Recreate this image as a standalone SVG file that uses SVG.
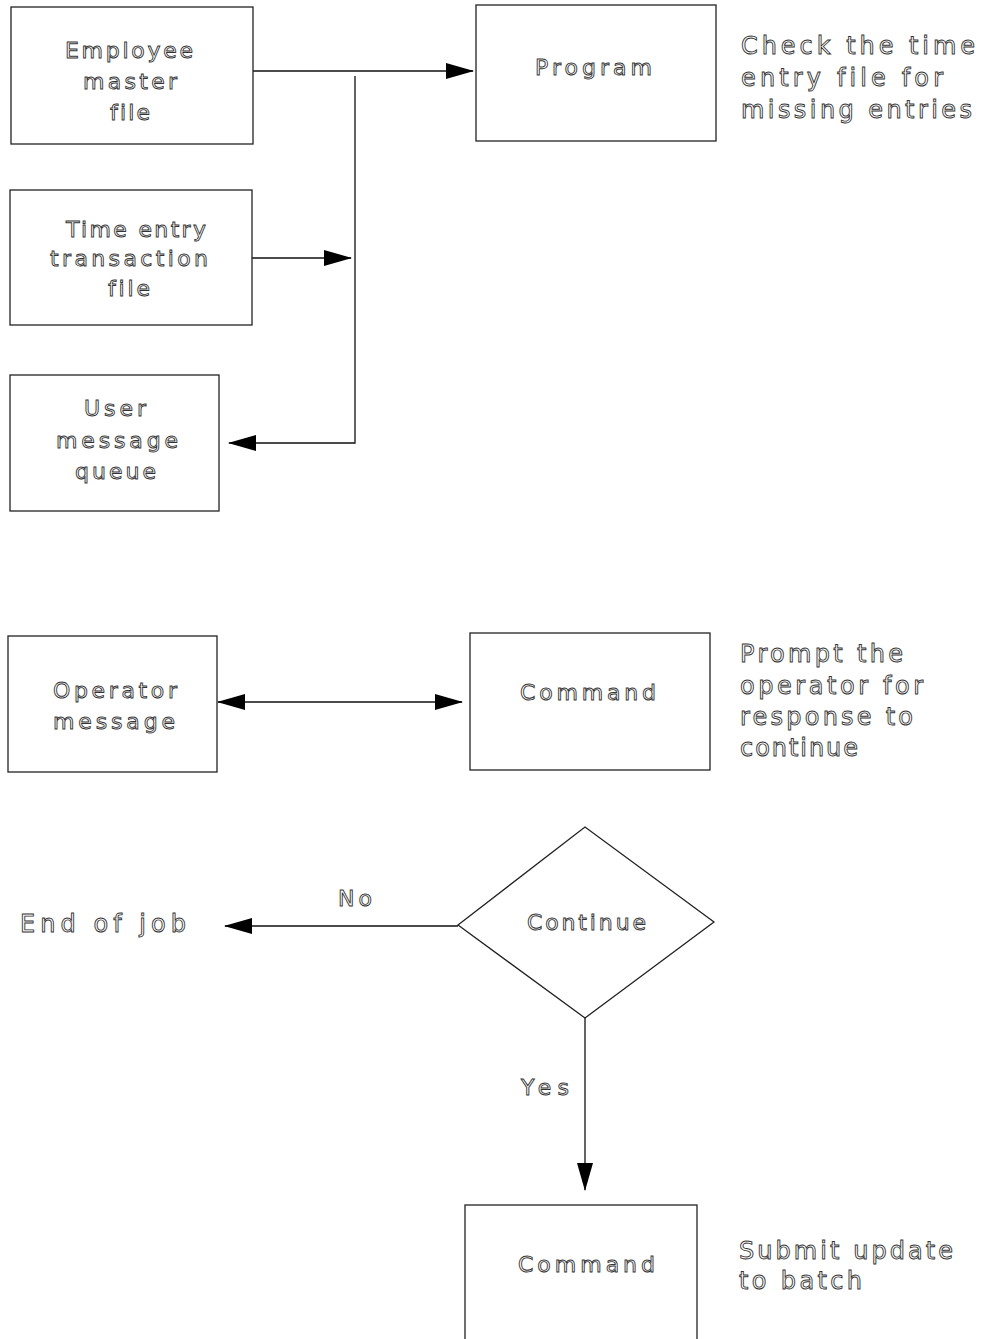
<svg xmlns="http://www.w3.org/2000/svg" width="982" height="1339" viewBox="0 0 982 1339">
<style>
.box{fill:#fff;stroke:#222;stroke-width:1.3}
.t{font-family:"DejaVu Sans","Liberation Sans",sans-serif;font-size:22px;font-variant-ligatures:none;fill:#fff;stroke:#333;stroke-width:0.9;dominant-baseline:central}
.s{font-family:"DejaVu Sans","Liberation Sans",sans-serif;font-size:24px;font-variant-ligatures:none;fill:#fff;stroke:#333;stroke-width:0.9;dominant-baseline:central}
.ln{fill:none;stroke:#111;stroke-width:1.3}
</style>
<defs>
<marker id="ah" markerWidth="28" markerHeight="16" refX="27" refY="8" orient="auto" markerUnits="userSpaceOnUse">
<path d="M0,0 L28,8 L0,16 Z" fill="#000"/>
</marker>
<marker id="ahs" markerWidth="28" markerHeight="16" refX="1" refY="8" orient="auto" markerUnits="userSpaceOnUse">
<path d="M28,0 L0,8 L28,16 Z" fill="#000"/>
</marker>
</defs>
<rect width="982" height="1339" fill="#fff"/>
<g id="connectors">
<path class="ln" d="M253,71 L473,71" marker-end="url(#ah)"/>
<path class="ln" d="M355,76 L355,443 L229,443" marker-end="url(#ah)"/>
<path class="ln" d="M252,258 L351,258" marker-end="url(#ah)"/>
<path class="ln" d="M218,702 L462,702" marker-start="url(#ahs)" marker-end="url(#ah)"/>
<path class="ln" d="M458,926 L225,926" marker-end="url(#ah)"/>
<path class="ln" d="M585,1018 L585,1190" marker-end="url(#ah)"/>
<text class="t" x="338" y="898" textLength="34" lengthAdjust="spacing">No</text>
<text class="t" x="521" y="1087" textLength="48" lengthAdjust="spacing">Yes</text>
</g>
<g id="employee-master-file">
<rect class="box" x="11" y="7" width="242" height="137"/>
<text class="t" x="65" y="50" textLength="128" lengthAdjust="spacing">Employee</text>
<text class="t" x="83" y="81" textLength="94" lengthAdjust="spacing">master</text>
<text class="t" x="110" y="112" textLength="40" lengthAdjust="spacing">file</text>
</g>
<g id="program">
<rect class="box" x="476" y="5" width="240" height="136"/>
<text class="t" x="535" y="67" textLength="117" lengthAdjust="spacing">Program</text>
</g>
<g id="note-check">
<text class="s" x="741" y="46" textLength="234" lengthAdjust="spacing">Check the time</text>
<text class="s" x="741" y="78" textLength="202" lengthAdjust="spacing">entry file for</text>
<text class="s" x="741" y="110" textLength="231" lengthAdjust="spacing">missing entries</text>
</g>
<g id="time-entry-file">
<rect class="box" x="10" y="190" width="242" height="135"/>
<text class="t" x="66" y="229" textLength="140" lengthAdjust="spacing">Time entry</text>
<text class="t" x="50" y="258" textLength="158" lengthAdjust="spacing">transaction</text>
<text class="t" x="108" y="288" textLength="42" lengthAdjust="spacing">file</text>
</g>
<g id="user-message-queue">
<rect class="box" x="10" y="375" width="209" height="136"/>
<text class="t" x="84" y="408" textLength="62" lengthAdjust="spacing">User</text>
<text class="t" x="56" y="440" textLength="122" lengthAdjust="spacing">message</text>
<text class="t" x="75" y="471" textLength="81" lengthAdjust="spacing">queue</text>
</g>
<g id="operator-message">
<rect class="box" x="8" y="636" width="209" height="136"/>
<text class="t" x="53" y="690" textLength="124" lengthAdjust="spacing">Operator</text>
<text class="t" x="53" y="721" textLength="122" lengthAdjust="spacing">message</text>
</g>
<g id="command-1">
<rect class="box" x="470" y="633" width="240" height="137"/>
<text class="t" x="520" y="692" textLength="136" lengthAdjust="spacing">Command</text>
</g>
<g id="note-prompt">
<text class="s" x="740" y="654" textLength="163" lengthAdjust="spacing">Prompt the</text>
<text class="s" x="740" y="686" textLength="183" lengthAdjust="spacing">operator for</text>
<text class="s" x="740" y="717" textLength="173" lengthAdjust="spacing">response to</text>
<text class="s" x="740" y="748" textLength="118" lengthAdjust="spacing">continue</text>
</g>
<g id="continue">
<polygon class="box" points="458,925 585,827 714,922 585,1018"/>
<text class="t" x="527" y="922" textLength="119" lengthAdjust="spacing">Continue</text>
</g>
<g id="end-of-job">
<text class="s" x="20" y="924" textLength="166" lengthAdjust="spacing">End of job</text>
</g>
<g id="command-2">
<rect class="box" x="465" y="1205" width="232" height="140"/>
<text class="t" x="518" y="1264" textLength="137" lengthAdjust="spacing">Command</text>
</g>
<g id="note-submit">
<text class="s" x="739" y="1251" textLength="214" lengthAdjust="spacing">Submit update</text>
<text class="s" x="739" y="1281" textLength="123" lengthAdjust="spacing">to batch</text>
</g>
</svg>
